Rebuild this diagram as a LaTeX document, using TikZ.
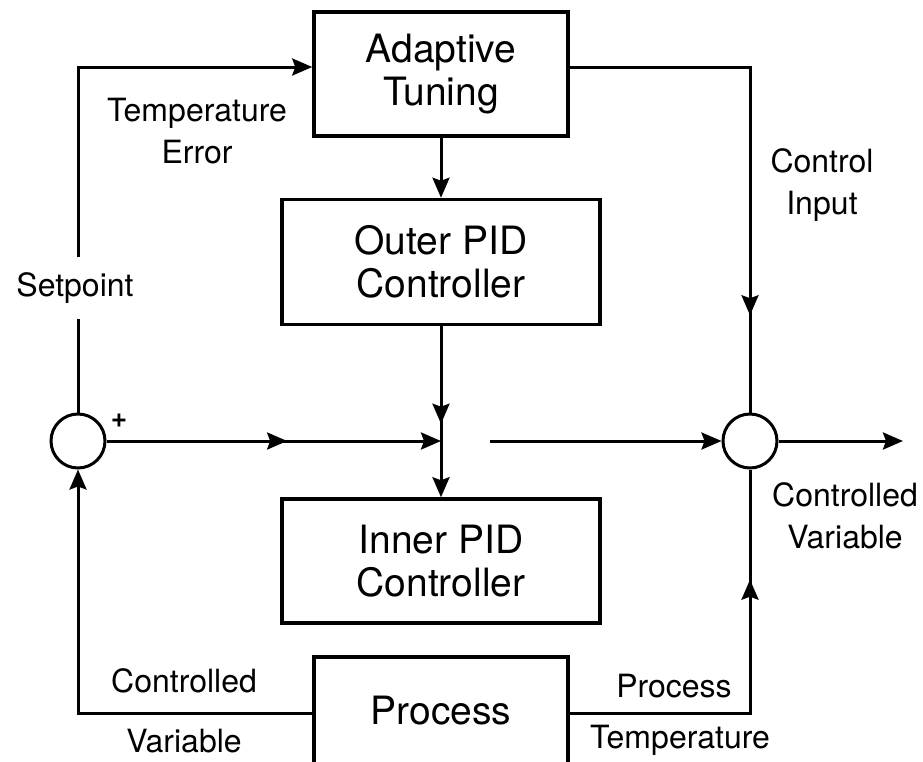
\documentclass[tikz,border=0pt]{standalone}
\usepackage{fontspec}
\setmainfont{TeX Gyre Heros}
\usetikzlibrary{arrows.meta,decorations.markings}

\begin{document}
\begin{tikzpicture}[x=.5pt, y=-.5pt, line width=1.5pt,
	>={Stealth[length=10pt, width=8.5pt, inset=1.5pt]},
	block/.style={draw, line width=1.75pt, align=center, font=\fontsize{19.5}{21.5}\selectfont},
	sumnode/.style={draw, circle, minimum size=27pt, inner sep=0pt},
	lbl/.style={align=center, font=\fontsize{16}{21}\selectfont},
	midarrow/.style={postaction={decorate, decoration={markings, mark=at position #1 with {\arrow{>}}}}}]
	\useasboundingbox (0,0) rectangle (923,762);

	% blocks
	\node[block, minimum width=127pt, minimum height=62pt] (tune) at (441,74) {Adaptive\\Tuning};
	\node[block, minimum width=159pt, minimum height=62.5pt] (outer) at (441,262) {Outer PID\\Controller};
	\node[block, minimum width=159pt, minimum height=62pt] (inner) at (441,561) {Inner PID\\Controller};
	\node[block, minimum width=127pt, minimum height=54pt] (proc) at (441,711) {Process};

	% summing junctions
	\node[sumnode] (sumL) at (78,441) {};
	\node[sumnode] (sumR) at (750,441) {};

	\coordinate (join) at (441,441);
	\coordinate (gap) at (490,441);
	\coordinate (out) at (903,441);
	\coordinate (tl) at (78,67);
	\coordinate (tr) at (750,67);
	\coordinate (bl) at (78,713);
	\coordinate (br) at (750,713);

	% top loop
	\draw[->] (sumL.north) -- (tl) -- (tl -| tune.west);
	\draw[midarrow=.815] (tr -| tune.east) -- (tr) -- (sumR.north);

	% cascade
	\draw[->] (tune) -- (outer);
	\draw[->, midarrow=.57] (outer) -- (inner);
	\draw[->, midarrow=.54] (sumL) -- (join);
	\draw[->] (gap) -- (sumR);
	\draw[->] (sumR) -- (out);

	% feedback from the process
	\draw[->] (bl -| proc.west) -- (bl) -- (sumL.south);
	\draw[midarrow=.74] (br -| proc.east) -- (br) -- (sumR.south);

	% labels
	\node[lbl] (errlbl) at (197,131) {Temperature\\Error};
	\node[lbl, fill=white, inner ysep=8pt] (setlbl) at (75,288) {Setpoint};
	\node[font=\bfseries\fontsize{14}{14}\selectfont] (plus) at (119,421) {+};
	\node[lbl] (inlbl) at (822,185) {Control\\Input};
	\node[lbl] (cvlbl) at (845,516) {Controlled\\Variable};
	\node[lbl] (cvtop) at (184,681) {Controlled};
	\node[lbl] (cvbot) at (184,741) {Variable};
	\node[lbl] (pttop) at (674,686) {Process};
	\node[lbl] (ptbot) at (680,740) {Temperature};
\end{tikzpicture}
\end{document}
